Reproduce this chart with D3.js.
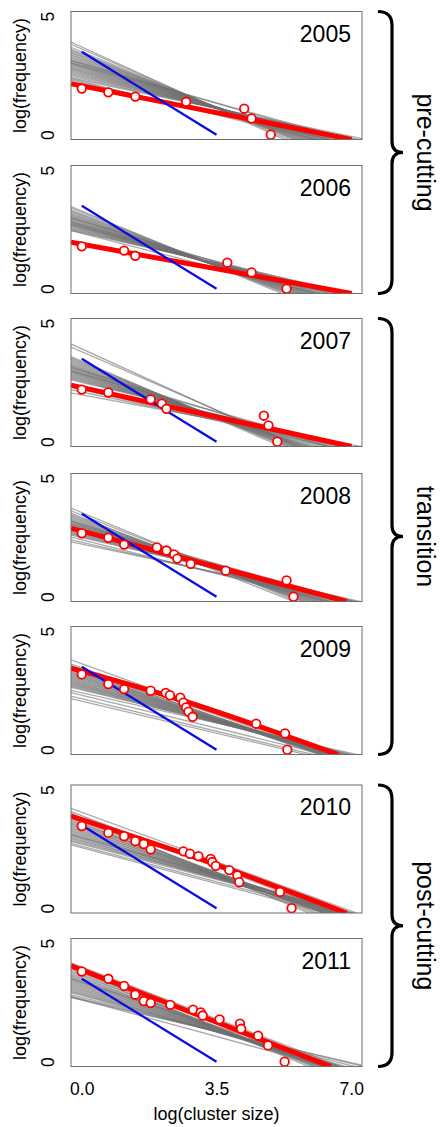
<!DOCTYPE html>
<html>
<head>
<meta charset="utf-8">
<script src="https://cdn.jsdelivr.net/npm/d3@7"></script>
<style>
  body { margin: 0; background: #fff; }
  svg { display: block; font-family: "Liberation Sans", Arial, sans-serif; }
</style>
</head>
<body>
<svg id="chart" width="442" height="1127"></svg>
<script>
// data (natural logs)
const years = ["2005", "2006", "2007", "2008", "2009", "2010", "2011"];

const ptX = [
  [0, 0.69, 1.39, 2.71, 4.22, 4.41, 4.91],
  [0, 1.10, 1.39, 3.78, 4.41, 5.32],
  [0, 0.69, 1.79, 2.08, 2.20, 4.73, 4.85, 5.08],
  [0, 0.69, 1.10, 1.95, 2.20, 2.40, 2.48, 2.83, 3.74, 5.32, 5.50],
  [0, 0.69, 1.10, 1.79, 2.18, 2.29, 2.56, 2.64, 2.71, 2.77, 2.88, 4.53, 5.28, 5.34],
  [0, 0.69, 1.10, 1.39, 1.61, 1.79, 2.64, 2.81, 3.03, 3.35, 3.39, 3.48, 3.83, 4.04, 4.09, 5.15, 5.45],
  [0, 0.69, 1.10, 1.39, 1.61, 1.79, 2.30, 2.89, 3.09, 3.14, 3.58, 4.11, 4.14, 4.58, 4.84, 5.27]
];
const ptY = [
  [1.95, 1.79, 1.61, 1.39, 1.10, 0.69, 0],
  [1.79, 1.61, 1.39, 1.10, 0.69, 0],
  [2.20, 2.08, 1.79, 1.61, 1.39, 1.10, 0.69, 0],
  [2.68, 2.49, 2.20, 2.08, 1.95, 1.79, 1.61, 1.39, 1.10, 0.69, 0],
  [3.18, 2.77, 2.56, 2.49, 2.40, 2.30, 2.20, 1.99, 1.79, 1.61, 1.39, 1.10, 0.69, 0],
  [3.47, 3.18, 3.04, 2.83, 2.71, 2.48, 2.40, 2.30, 2.20, 2.08, 1.95, 1.79, 1.61, 1.39, 1.10, 0.69, 0],
  [3.81, 3.50, 3.20, 2.83, 2.56, 2.48, 2.40, 2.20, 2.08, 1.95, 1.79, 1.61, 1.39, 1.10, 0.69, 0]
];

// fitted (red) line, points along it
const redFit = [
  [[-0.28, 2.15], [7.01, -0.2]],
  [[-0.28, 1.96], [7.01, -0.2]],
  [[-0.28, 2.39], [7.01, -0.2]],
  [[-0.28, 2.89], [6.88, -0.2]],
  [[-0.28, 3.44], [2.16, 2.31], [6.66, -0.2]],
  [[-0.28, 3.89], [3.03, 2.10], [6.88, -0.2]],
  [[-0.28, 4.05], [6.47, -0.2]]
];

// reference slope -1 (blue)
const blueX = [0, 3.5];
const blueY = [3.5, 0];

// resampled fits (gray): [y at x=0, x at y=0]
const grayFits = [
  [[3.70,5.0],[3.62,5.1],[3.50,5.2],[3.42,5.3],[3.38,5.25],[3.33,5.4],[3.28,5.35],[3.22,5.5],[3.18,5.45],[3.12,5.6],[3.08,5.55],[3.02,5.7],[2.98,5.65],[2.93,5.8],[2.88,5.75],[2.84,5.9],[2.80,5.85],[2.75,6.0],[2.70,5.95],[2.66,6.1],[2.62,6.05],[2.57,6.2],[2.52,6.3],[2.47,6.4],[2.42,6.5],[2.36,6.6],[2.30,6.8],[2.25,5.6],[2.20,5.9],[3.00,6.3],[2.90,6.5]],
  [[3.28,4.9],[3.22,5.0],[3.15,5.1],[3.10,5.05],[3.05,5.2],[3.00,5.15],[2.96,5.3],[2.92,5.25],[2.88,5.4],[2.84,5.35],[2.80,5.5],[2.76,5.45],[2.72,5.6],[2.68,5.55],[2.65,5.7],[2.62,5.65],[2.58,5.8],[2.55,5.9],[2.52,6.0],[2.48,6.1],[2.44,6.2],[2.40,6.35],[2.36,6.5],[2.70,6.0],[2.60,6.3],[2.85,5.8],[2.34,5.6]],
  [[3.92,5.3],[3.80,5.4],[3.40,4.9],[3.35,5.0],[3.30,5.05],[3.25,5.1],[3.20,5.2],[3.15,5.15],[3.10,5.3],[3.06,5.25],[3.02,5.4],[2.98,5.35],[2.94,5.5],[2.90,5.45],[2.86,5.6],[2.82,5.55],[2.78,5.7],[2.74,5.8],[2.70,5.9],[2.66,6.0],[2.62,6.1],[2.58,6.2],[2.54,6.35],[2.50,6.5],[2.10,6.2],[1.98,6.6],[2.20,5.9],[3.00,6.0],[2.85,6.3]],
  [[3.55,5.3],[3.45,5.4],[3.35,5.2],[3.30,5.5],[3.25,5.45],[3.20,5.6],[3.15,5.55],[3.10,5.7],[3.06,5.65],[3.02,5.8],[2.98,5.75],[2.94,5.9],[2.90,5.85],[2.86,6.0],[2.82,5.95],[2.78,6.1],[2.74,6.05],[2.70,6.2],[2.66,6.3],[2.62,6.4],[2.58,6.5],[2.54,6.6],[2.50,6.7],[2.30,6.2],[2.22,6.5],[3.05,6.4],[2.95,6.6],[2.40,5.9]],
  [[3.63,6.2],[3.45,6.1],[3.38,5.9],[3.32,6.0],[3.28,5.8],[3.24,6.05],[3.20,5.85],[3.16,6.1],[3.12,5.9],[3.08,6.15],[3.04,5.95],[3.00,6.2],[2.96,6.0],[2.92,6.25],[2.88,6.05],[2.84,6.3],[2.80,6.1],[2.76,6.35],[2.72,6.15],[2.68,6.4],[2.64,6.2],[2.60,6.45],[2.56,6.3],[2.52,6.5],[2.30,5.8],[2.15,5.5],[2.05,5.3],[2.40,6.6]],
  [[4.05,6.8],[3.90,6.3],[3.80,5.6],[3.72,5.8],[3.66,6.0],[3.60,5.7],[3.55,6.1],[3.50,5.9],[3.45,6.2],[3.40,5.95],[3.35,6.25],[3.30,6.0],[3.25,6.3],[3.20,6.05],[3.15,6.35],[3.10,6.1],[3.05,6.4],[3.00,6.15],[2.95,6.45],[2.90,6.2],[2.85,6.5],[2.80,6.3],[2.75,6.55],[2.70,6.35],[2.62,6.1],[2.55,5.9],[2.98,6.6]],
  [[4.00,6.4],[3.88,6.1],[3.80,5.6],[3.74,5.8],[3.68,5.7],[3.62,5.9],[3.56,5.75],[3.50,5.95],[3.45,5.85],[3.40,6.0],[3.35,5.9],[3.30,6.05],[3.25,5.95],[3.20,6.1],[3.15,6.0],[3.10,6.15],[3.05,6.05],[3.00,6.2],[2.95,6.1],[2.90,6.25],[2.85,6.3],[2.80,6.4],[2.72,6.6],[2.65,6.8],[2.60,6.9],[2.62,5.9],[3.36,6.3]]
];

const xTicks = [0, 3.5, 7];
const yTicks = [0, 5];
const groupNames = ["pre-cutting", "transition", "post-cutting"];
const groupPanels = [[0, 1], [2, 4], [5, 6]];

// layout
const svg = d3.select("#chart");
const panelTop = [11.5, 165.5, 318.5, 473.5, 626.5, 785, 938.5];
const panelH = 128;
const xDom = [-0.28, 7.28];
const x = d3.scaleLinear().domain(xDom).range([71, 362]);

years.forEach(function(yr, i) {
  const top = panelTop[i];
  const y = d3.scaleLinear().domain([-0.2, 5.2]).range([top + panelH, top]);
  const g = svg.append("g");

  g.append("clipPath").attr("id", "clip" + i)
    .append("rect").attr("x", x(xDom[0])).attr("y", top)
    .attr("width", x(xDom[1]) - x(xDom[0])).attr("height", panelH);

  const plot = g.append("g").attr("clip-path", "url(#clip" + i + ")");

  plot.selectAll("line.gray").data(grayFits[i]).join("line")
    .attr("class", "gray")
    .attr("x1", x(xDom[0])).attr("x2", x(xDom[1]))
    .attr("y1", d => y(d[0] * (1 - xDom[0] / d[1])))
    .attr("y2", d => y(d[0] * (1 - xDom[1] / d[1])))
    .attr("stroke", "#6f6f6f").attr("stroke-opacity", 0.6).attr("stroke-width", 1.3);

  plot.append("path").datum(redFit[i])
    .attr("d", d3.line().x(d => x(d[0])).y(d => y(d[1])).curve(d3.curveMonotoneX))
    .attr("fill", "none").attr("stroke", "#ff0000").attr("stroke-width", 5);

  plot.append("line")
    .attr("x1", x(blueX[0])).attr("y1", y(blueY[0]))
    .attr("x2", x(blueX[1])).attr("y2", y(blueY[1]))
    .attr("stroke", "#0a0ae6").attr("stroke-width", 2.2);

  plot.selectAll("circle").data(d3.range(ptX[i].length)).join("circle")
    .attr("cx", k => x(ptX[i][k])).attr("cy", k => y(ptY[i][k]))
    .attr("r", 4.3).attr("fill", "#fff").attr("stroke", "#ff0000").attr("stroke-width", 1.8);

  g.append("rect")
    .attr("x", x(xDom[0])).attr("y", top)
    .attr("width", x(xDom[1]) - x(xDom[0])).attr("height", panelH)
    .attr("fill", "none").attr("stroke", "#6e6e6e").attr("stroke-width", 1);

  g.append("text")
    .attr("x", 351).attr("y", top + 30)
    .attr("text-anchor", "end").attr("font-size", 23)
    .text(yr);

  // y axis
  const ya = g.append("g").attr("transform", "translate(" + x(xDom[0]) + ",0)")
    .call(d3.axisLeft(y).tickValues(yTicks).tickSize(0).tickFormat(d3.format("d")));
  ya.select(".domain").remove();
  ya.selectAll("text")
    .attr("transform", "rotate(-90)")
    .attr("x", 0).attr("y", -17.5).attr("dy", 0)
    .attr("text-anchor", "middle")
    .attr("font-size", 17.5).attr("font-family", "Liberation Sans, Arial, sans-serif")
    .attr("fill", "#000");

  g.append("text")
    .attr("transform", "translate(25.5," + (top + panelH / 2) + ") rotate(-90)")
    .attr("text-anchor", "middle").attr("font-size", 18)
    .text("log(frequency)");

  if (i === years.length - 1) {
    const xa = g.append("g").attr("transform", "translate(0," + (top + panelH) + ")")
      .call(d3.axisBottom(x).tickValues(xTicks).tickSize(0).tickFormat(d3.format(".1f")));
    xa.select(".domain").remove();
    xa.selectAll("text")
      .attr("y", 28.5).attr("dy", 0)
      .attr("font-size", 17.5).attr("font-family", "Liberation Sans, Arial, sans-serif")
      .attr("fill", "#000");

    g.append("text")
      .attr("x", x(3.5)).attr("y", top + panelH + 53.5)
      .attr("text-anchor", "middle").attr("font-size", 18)
      .text("log(cluster size)");
  }
});

// group braces
groupNames.forEach(function(name, j) {
  const y1 = panelTop[groupPanels[j][0]];
  const y2 = panelTop[groupPanels[j][1]] + panelH;
  const ym = (y1 + y2) / 2;
  const sx = 392, ex = 378, tx = 403;
  const p = d3.path();
  p.moveTo(ex, y1);
  p.quadraticCurveTo(sx, y1, sx, y1 + 14);
  p.lineTo(sx, ym - 11);
  p.quadraticCurveTo(sx, ym, tx, ym);
  p.quadraticCurveTo(sx, ym, sx, ym + 11);
  p.lineTo(sx, y2 - 14);
  p.quadraticCurveTo(sx, y2, ex, y2);
  svg.append("path").attr("d", p.toString())
    .attr("fill", "none").attr("stroke", "#000").attr("stroke-width", 3.2);

  svg.append("text")
    .attr("transform", "translate(417," + ym + ") rotate(90)")
    .attr("text-anchor", "middle").attr("font-size", 25)
    .text(name);
});
</script>
</body>
</html>
